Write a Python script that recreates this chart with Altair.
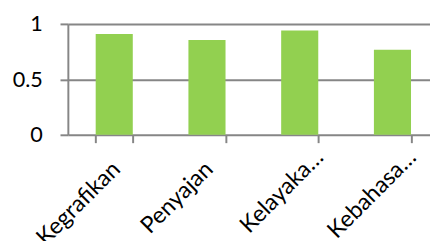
import altair as alt
import pandas as pd

categories = ["Kegrafikan", "Penyajan", "Kelayaka…", "Kebahasa…"]
values = [0.91, 0.856, 0.94, 0.768]
y_ticks = [0, 0.5, 1]

df = pd.DataFrame({"cat": categories, "val": values})

chart = alt.Chart(df).mark_bar(color="#92D050").encode(
    x=alt.X("cat:N", sort=categories, title=None,
            scale=alt.Scale(range=[0, 378], paddingInner=0.6, paddingOuter=0.3),
            axis=alt.Axis(labelAngle=-45, labelAlign="right", labelBaseline="middle",
                          tickBand="extent", domain=False, ticks=True, tickSize=8,
                          tickColor="#868686", tickWidth=2,
                          labelPadding={"condition": {"test": "datum.index > 0.5", "value": 11},
                                        "value": 23},
                          labelOffset={"condition": {"test": "datum.index > 0.5", "value": 20},
                                       "value": 2},
                          labelFont="Lato", labelFontSize=23.5, labelColor="#000000",
                          labelOverlap=False, labelLimit=0)),
    y=alt.Y("val:Q", title=None,
            scale=alt.Scale(domain=[0, 1], nice=False),
            axis=alt.Axis(values=y_ticks, grid=True, gridColor="#868686", gridWidth=2,
                          domain=True, domainColor="#868686", domainWidth=2,
                          tickSize=8, tickColor="#868686", tickWidth=2,
                          labelPadding=18, labelFont="Lato", labelFontSize=22,
                          labelColor="#000000", format="~g")),
).properties(
    width=369, height=113,
    autosize=alt.AutoSizeParams(type="none"),
    padding={"left": 61, "top": 14, "right": 0, "bottom": 106},
).configure_view(stroke=None)

chart.save("out.html", embed_options={"renderer": "svg", "actions": False})
